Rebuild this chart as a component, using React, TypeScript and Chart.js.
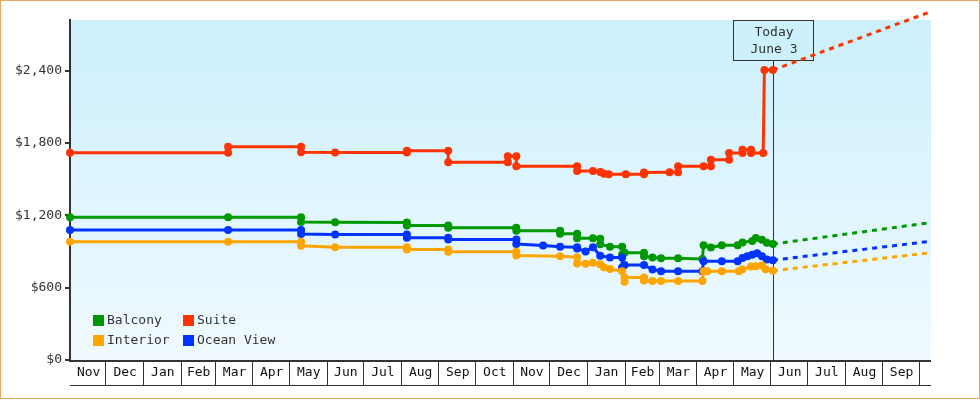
import React, { useEffect, useRef } from "react";
import { Chart, registerables } from "chart.js";

Chart.register(...registerables);

// ---------- data ----------
const MONTH_NAMES = ["Jan", "Feb", "Mar", "Apr", "May", "Jun", "Jul", "Aug", "Sep", "Oct", "Nov", "Dec"];
const X_START = "2021-11-02";
const X_END = "2023-10-11";
const TODAY = "2023-06-03";
const TODAY_LABEL = ["Today", "June 3"];
const Y_MAX = 2820;
const Y_TICKS = [0, 600, 1200, 1800, 2400];

const SERIES_NAMES = ["Balcony", "Suite", "Interior", "Ocean View"];
const SERIES_COLORS = ["#009900", "#ff3300", "#ffa500", "#0033ff"];

const balconyDates = [
  "2021-11-02", "2022-03-12", "2022-05-11", "2022-05-11", "2022-06-08", "2022-08-06", "2022-08-06",
  "2022-09-09", "2022-09-09", "2022-11-04", "2022-11-04", "2022-12-10", "2022-12-10", "2022-12-24",
  "2022-12-24", "2023-01-06", "2023-01-12", "2023-01-12", "2023-01-20", "2023-01-30", "2023-01-30",
  "2023-02-01", "2023-02-17", "2023-02-17", "2023-02-24", "2023-03-03", "2023-03-17", "2023-04-06",
  "2023-04-07", "2023-04-13", "2023-04-22", "2023-05-05", "2023-05-09", "2023-05-17", "2023-05-20",
  "2023-05-25", "2023-05-29", "2023-06-03",
];
const balconyValues = [
  1184, 1184, 1184, 1145, 1142, 1140, 1115,
  1115, 1096, 1096, 1073, 1073, 1048, 1048,
  1010, 1010, 1005, 960, 940, 940, 875,
  889, 889, 860, 850, 843, 843, 838,
  952, 933, 952, 952, 975, 988, 1012,
  998, 972, 962,
];

const suiteDates = [
  "2021-11-02", "2022-03-12", "2022-03-12", "2022-05-11", "2022-05-11", "2022-06-08", "2022-08-06",
  "2022-08-06", "2022-09-09", "2022-09-09", "2022-10-28", "2022-10-28", "2022-11-04", "2022-11-04",
  "2022-12-24", "2022-12-24", "2023-01-06", "2023-01-12", "2023-01-15", "2023-01-19", "2023-02-02",
  "2023-02-17", "2023-02-17", "2023-03-10", "2023-03-17", "2023-03-17", "2023-04-07", "2023-04-13",
  "2023-04-13", "2023-04-28", "2023-04-28", "2023-05-09", "2023-05-09", "2023-05-16", "2023-05-16",
  "2023-05-26", "2023-05-27", "2023-06-03",
];
const suiteValues = [
  1718, 1718, 1768, 1768, 1723, 1721, 1720,
  1736, 1736, 1640, 1640, 1690, 1690, 1608,
  1608, 1567, 1567, 1560, 1545, 1540, 1540,
  1540, 1556, 1558, 1558, 1608, 1608, 1608,
  1660, 1660, 1716, 1716, 1744, 1744, 1716,
  1716, 2405, 2405,
];

const interiorDates = [
  "2021-11-02", "2022-03-12", "2022-05-11", "2022-05-11", "2022-06-08", "2022-08-06", "2022-08-06",
  "2022-09-09", "2022-09-09", "2022-11-04", "2022-11-04", "2022-12-10", "2022-12-24", "2022-12-24",
  "2022-12-31", "2023-01-06", "2023-01-12", "2023-01-15", "2023-01-20", "2023-01-30", "2023-02-01",
  "2023-02-01", "2023-02-17", "2023-02-17", "2023-02-24", "2023-03-03", "2023-03-17", "2023-04-06",
  "2023-04-07", "2023-04-10", "2023-04-22", "2023-05-06", "2023-05-09", "2023-05-16", "2023-05-20",
  "2023-05-25", "2023-05-28", "2023-06-03",
];
const interiorValues = [
  980, 980, 980, 947, 935, 935, 916,
  916, 897, 897, 866, 860, 853, 800,
  798, 806, 795, 770, 755, 737, 650,
  685, 685, 660, 655, 655, 655, 655,
  737, 737, 737, 737, 752, 775, 778,
  784, 752, 740,
];

const oceanDates = [
  "2021-11-02", "2022-03-12", "2022-05-11", "2022-05-11", "2022-06-08", "2022-08-06", "2022-08-06",
  "2022-09-09", "2022-09-09", "2022-11-04", "2022-11-04", "2022-11-26", "2022-12-10", "2022-12-24",
  "2022-12-24", "2022-12-31", "2023-01-06", "2023-01-12", "2023-01-20", "2023-01-30", "2023-01-30",
  "2023-02-01", "2023-02-17", "2023-02-24", "2023-03-03", "2023-03-17", "2023-04-06", "2023-04-07",
  "2023-04-22", "2023-05-05", "2023-05-09", "2023-05-13", "2023-05-17", "2023-05-21", "2023-05-25",
  "2023-05-29", "2023-06-03",
];
const oceanValues = [
  1079, 1079, 1079, 1046, 1040, 1040, 1013,
  1013, 999, 999, 963, 950, 940, 935,
  925, 900, 935, 865, 850, 850, 768,
  788, 788, 750, 737, 737, 737, 820,
  820, 820, 845, 860, 872, 885, 860,
  833, 828,
];

// forecast (dashed) from today to the end of the axis
const forecastDates = [TODAY, X_END];
const balconyForecast = [962, 1140];
const suiteForecast = [2405, 2890];
const interiorForecast = [740, 890];
const oceanForecast = [828, 985];

// ---------- helpers ----------
const FONT = "'DejaVu Sans Mono', monospace";
const toDay = (s: string) => Date.parse(s + "T00:00:00Z") / 86400000;
const pts = (dates: string[], values: number[]) => dates.map((d, i) => ({ x: toDay(d), y: values[i] }));

const solid = (label: string, color: string, dates: string[], values: number[]) => ({
  label,
  data: pts(dates, values),
  borderColor: color,
  backgroundColor: color,
  borderWidth: 3,
  borderJoinStyle: "round",
  pointRadius: 4,
  pointBorderWidth: 0,
  pointHoverRadius: 4,
  pointBackgroundColor: color,
  tension: 0,
  clip: false as any,
});

const dashed = (label: string, color: string, values: number[]) => ({
  label,
  data: pts(forecastDates, values),
  borderColor: color,
  borderWidth: 3,
  borderDash: [5, 5],
  pointRadius: 0,
  pointHoverRadius: 0,
  tension: 0,
  clip: false as any,
});

const bgPlugin = {
  id: "bgPlugin",
  beforeDraw(chart: any) {
    const { ctx, chartArea: a } = chart;
    ctx.save();
    ctx.fillStyle = "#ffffff";
    ctx.fillRect(0, 0, chart.width, chart.height);
    const g = ctx.createLinearGradient(0, a.top, 0, a.bottom);
    g.addColorStop(0, "#ccf0fc");
    g.addColorStop(1, "#f0faff");
    ctx.fillStyle = g;
    ctx.fillRect(a.left, a.top, a.right - a.left, a.bottom - a.top);
    ctx.restore();
  },
};

const todayPlugin = {
  id: "todayPlugin",
  beforeDatasetsDraw(chart: any) {
    const { ctx, chartArea: a } = chart;
    const x = Math.round(chart.scales.x.getPixelForValue(toDay(TODAY)));
    const bw = 80, bh = 40;
    ctx.save();
    ctx.strokeStyle = "#333333";
    ctx.lineWidth = 1;
    ctx.beginPath();
    ctx.moveTo(x + 0.5, a.top + bh);
    ctx.lineTo(x + 0.5, a.bottom);
    ctx.stroke();
    ctx.fillStyle = "#ccf0fc";
    ctx.fillRect(x - bw / 2 + 0.5, a.top + 0.5, bw, bh);
    ctx.strokeRect(x - bw / 2 + 0.5, a.top + 0.5, bw, bh);
    ctx.fillStyle = "#333333";
    ctx.font = `13px ${FONT}`;
    ctx.textAlign = "center";
    ctx.textBaseline = "middle";
    ctx.fillText(TODAY_LABEL[0], x + 1, a.top + 12.5);
    ctx.fillText(TODAY_LABEL[1], x + 1, a.top + 29.5);
    ctx.restore();
  },
};

const legendPlugin = {
  id: "legendPlugin",
  afterDatasetsDraw(chart: any) {
    const { ctx, chartArea: a } = chart;
    const cols = [a.left + 23, a.left + 113];
    const rows = [a.bottom - 40, a.bottom - 20];
    ctx.save();
    ctx.font = `13px ${FONT}`;
    ctx.textBaseline = "middle";
    ctx.textAlign = "left";
    SERIES_NAMES.forEach((name, i) => {
      const cx = cols[i % 2];
      const cy = rows[Math.floor(i / 2)];
      ctx.fillStyle = SERIES_COLORS[i];
      ctx.fillRect(cx, cy - 5, 11, 11);
      ctx.fillStyle = "#333333";
      ctx.fillText(name, cx + 14, cy + 1);
    });
    ctx.restore();
  },
};

const monthAxisPlugin = {
  id: "monthAxisPlugin",
  afterDraw(chart: any) {
    const { ctx, chartArea: a } = chart;
    const xs = chart.scales.x;
    const min = toDay(X_START);
    const max = toDay(X_END);
    const cellH = 25;
    ctx.save();
    ctx.fillStyle = "#333333";
    ctx.fillRect(a.left - 1, a.bottom, a.right - a.left + 1, 2);
    ctx.fillRect(a.left, a.bottom + cellH, a.right - a.left, 1);
    ctx.font = `13px ${FONT}`;
    ctx.textAlign = "center";
    ctx.textBaseline = "middle";
    const d0 = new Date(X_START + "T00:00:00Z");
    let y = d0.getUTCFullYear();
    let m = d0.getUTCMonth();
    while (true) {
      const start = Date.UTC(y, m, 1) / 86400000;
      const end = Date.UTC(y, m + 1, 1) / 86400000;
      if (start >= max) break;
      const s = Math.max(start, min);
      const e = Math.min(end, max);
      const px0 = xs.getPixelForValue(s);
      const px1 = xs.getPixelForValue(e);
      if (end < max) {
        const sx = Math.round(px1) + 0.5;
        ctx.strokeStyle = "#333333";
        ctx.lineWidth = 1;
        ctx.beginPath();
        ctx.moveTo(sx, a.bottom + 2);
        ctx.lineTo(sx, a.bottom + cellH);
        ctx.stroke();
      }
      if (px1 - px0 > 24) {
        ctx.fillStyle = "#111111";
        ctx.fillText(MONTH_NAMES[m], (px0 + px1) / 2 + 1, a.bottom + 13);
      }
      m++;
      if (m > 11) { m = 0; y++; }
    }
    ctx.restore();
  },
};

const borderPlugin = {
  id: "borderPlugin",
  afterDraw(chart: any) {
    const { ctx } = chart;
    ctx.save();
    ctx.strokeStyle = "#e9a863";
    ctx.lineWidth = 1;
    ctx.strokeRect(0.5, 0.5, chart.width - 1, chart.height - 2);
    ctx.restore();
  },
};

export default function App() {
  const ref = useRef<HTMLCanvasElement>(null);
  useEffect(() => {
    if (!ref.current) return;
    Chart.defaults.font.family = FONT;
    const chart = new Chart(ref.current, {
      type: "line",
      data: {
        datasets: [
          solid(SERIES_NAMES[2], SERIES_COLORS[2], interiorDates, interiorValues),
          solid(SERIES_NAMES[3], SERIES_COLORS[3], oceanDates, oceanValues),
          solid(SERIES_NAMES[0], SERIES_COLORS[0], balconyDates, balconyValues),
          solid(SERIES_NAMES[1], SERIES_COLORS[1], suiteDates, suiteValues),
          dashed(SERIES_NAMES[2] + " forecast", SERIES_COLORS[2], interiorForecast),
          dashed(SERIES_NAMES[3] + " forecast", SERIES_COLORS[3], oceanForecast),
          dashed(SERIES_NAMES[0] + " forecast", SERIES_COLORS[0], balconyForecast),
          dashed(SERIES_NAMES[1] + " forecast", SERIES_COLORS[1], suiteForecast),
        ] as any,
      },
      options: {
        responsive: false,
        animation: false,
        events: [],
        layout: { padding: { top: 20, right: 49, bottom: 40, left: 0 } },
        plugins: { legend: { display: false }, tooltip: { enabled: false } },
        scales: {
          x: { type: "linear", min: toDay(X_START), max: toDay(X_END), display: false },
          y: {
            min: 0,
            max: Y_MAX,
            afterFit(s: any) { s.width = 70; },
            afterBuildTicks(s: any) { s.ticks = Y_TICKS.map((v) => ({ value: v })); },
            ticks: {
              callback: (v: any) => "$" + Number(v).toLocaleString("en-US"),
              color: "#333333",
              font: { family: FONT, size: 13 },
              padding: 3,
            },
            grid: { drawOnChartArea: false, drawTicks: true, tickLength: 5, color: "#333333", lineWidth: 2 },
            border: { display: true, color: "#333333", width: 2 },
          },
        },
      } as any,
      plugins: [bgPlugin, todayPlugin, legendPlugin, monthAxisPlugin, borderPlugin],
    });
    return () => chart.destroy();
  }, []);
  return (
    <div style={{ position: "absolute", left: 0, top: 0, width: 980, height: 400 }}>
      <canvas ref={ref} width={980} height={400} style={{ display: "block" }} />
    </div>
  );
}
